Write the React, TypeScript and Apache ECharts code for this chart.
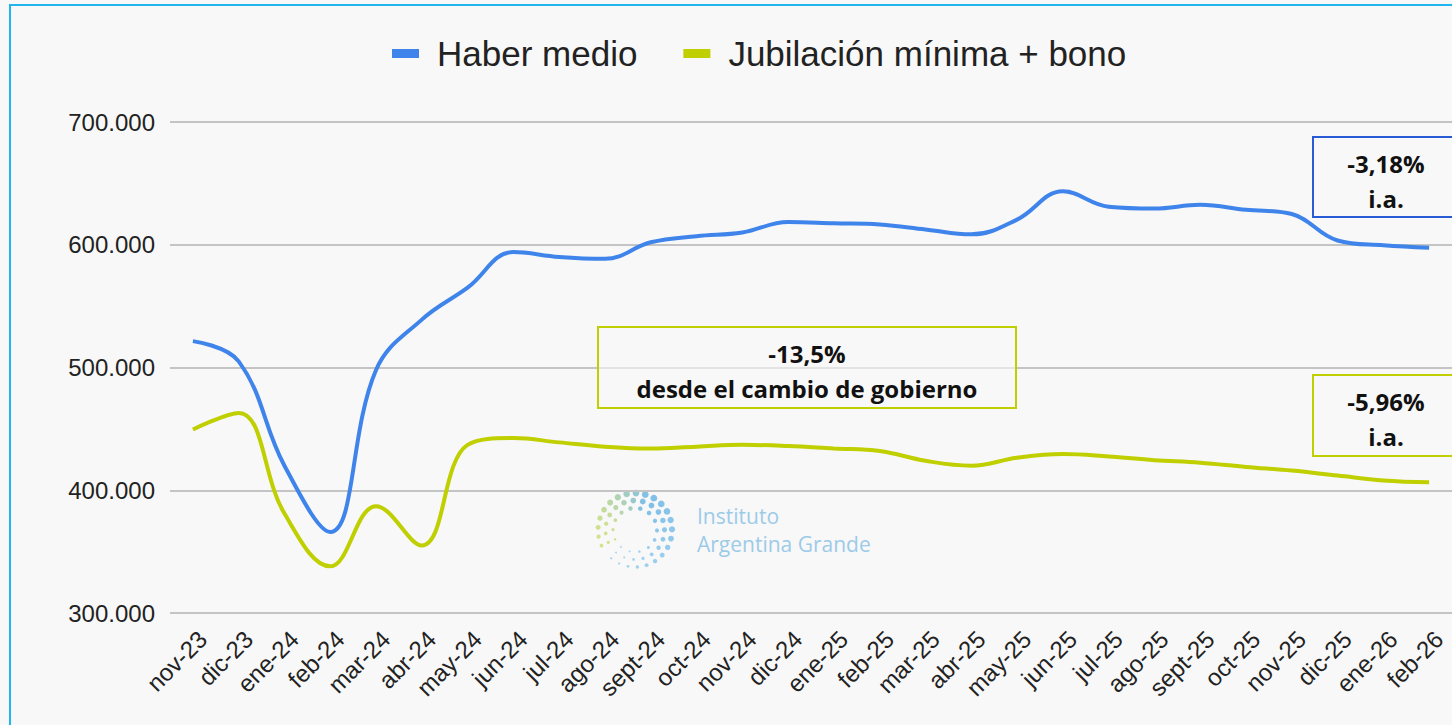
import React, { useEffect, useRef } from "react";
import * as echarts from "echarts";

const categories = [
  "nov-23", "dic-23", "ene-24", "feb-24", "mar-24", "abr-24", "may-24", "jun-24",
  "jul-24", "ago-24", "sept-24", "oct-24", "nov-24", "dic-24", "ene-25", "feb-25",
  "mar-25", "abr-25", "may-25", "jun-25", "jul-25", "ago-25", "sept-25", "oct-25",
  "nov-25", "dic-25", "ene-26", "feb-26",
];

const haberMedio = [
  521500, 505000, 420000, 366000, 498000, 539000, 565000, 594000,
  590000, 588500, 602000, 607000, 610000, 618500, 617500, 616500,
  612500, 608500, 620500, 643500, 631000, 629500, 632500, 628500,
  625000, 603500, 599500, 597500,
];

const jubilacionMinima = [
  449500, 463000, 381000, 338000, 387000, 355000, 437000, 442500,
  439000, 435500, 434000, 435500, 437000, 436000, 434000, 432000,
  424000, 420000, 426500, 429500, 427500, 424500, 422500, 419000,
  416000, 412000, 408000, 406500,
];

const seriesNames = ["Haber medio", "Jubilación mínima + bono"];
const yTicks = [300000, 400000, 500000, 600000, 700000];

const BLUE = "#3f84ea";
const OLIVE = "#bfcf00";
const SANS = "'Liberation Sans', Arial, sans-serif";
const BOLD = "'Open Sans', Lato, sans-serif";

function fmt(v: number): string {
  return String(v).replace(/\B(?=(\d{3})+(?!\d))/g, ".");
}

function logoDots(): any[] {
  const cx = 635;
  const cy = 530;
  const out: any[] = [];
  const rings = [
    { r: 37, n: 24, s: 3.4 },
    { r: 29.5, n: 19, s: 2.9 },
    { r: 22, n: 14, s: 2.3 },
  ];
  const lerp = (a: number, b: number, t: number) => Math.round(a + (b - a) * t);
  const green = [205, 222, 120];
  const blue = [105, 180, 230];
  const light = [160, 210, 238];
  rings.forEach((ring) => {
    for (let k = 0; k < ring.n; k++) {
      const t = k / (ring.n - 1);
      const deg = 205 - t * 335;
      const th = (deg * Math.PI) / 180;
      const x = cx + ring.r * Math.cos(th);
      const y = cy - ring.r * Math.sin(th);
      let c: number[];
      if (t < 0.4) {
        const u = t / 0.4;
        c = [lerp(green[0], blue[0], u * u), lerp(green[1], blue[1], u * u), lerp(green[2], blue[2], u * u)];
      } else {
        const u = (t - 0.4) / 0.6;
        c = [lerp(blue[0], light[0], u), lerp(blue[1], light[1], u), lerp(blue[2], light[2], u)];
      }
      const size = ring.s * (0.35 + 0.65 * Math.sin(Math.PI * Math.min(1, 0.1 + t * 0.95)));
      out.push({
        type: "circle",
        shape: { cx: x, cy: y, r: Math.max(0.9, size) },
        style: { fill: `rgba(${c[0]},${c[1]},${c[2]},0.85)` },
        silent: true,
      });
    }
  });
  return out;
}

function box(x: number, y: number, w: number, h: number, color: string, lines: string[]): any[] {
  const els: any[] = [
    {
      type: "rect",
      shape: { x, y, width: w, height: h },
      style: { fill: "rgba(248,248,248,0.6)", stroke: color, lineWidth: 2 },
      z: 10,
    },
  ];
  return els.concat(
    lines.map((t, i) => ({
      type: "text",
      x: x + (w > 200 ? w / 2 : 73),
      y: y + 26 + i * 35,
      z: 11,
      style: {
        text: t,
        fill: "#111",
        font: `bold 24px ${BOLD}`,
        lineHeight: 30,
        textAlign: "center",
        textVerticalAlign: "middle",
      },
    }))
  );
}

export default function App() {
  const ref = useRef<HTMLDivElement>(null);

  useEffect(() => {
    if (!ref.current) return;
    const chart = echarts.init(ref.current, null, { renderer: "svg" });
    const option: any = {
      animation: false,
      backgroundColor: "#f8f8f8",
      legend: {
        top: 36,
        left: 392,
        icon: "rect",
        itemWidth: 27,
        itemHeight: 9,
        itemGap: 46,
        padding: 0,
        data: seriesNames,
        textStyle: {
          fontFamily: SANS,
          fontSize: 35,
          color: "#222",
          padding: [0, 0, 0, 13],
        },
      },
      grid: { left: 170, right: -4, top: 122, bottom: 112, containLabel: false },
      xAxis: {
        type: "category",
        data: categories,
        boundaryGap: true,
        axisLine: { show: false },
        axisTick: { show: false },
        splitLine: { show: false },
        axisLabel: {
          interval: 0,
          rotate: 45,
          margin: 32,
          padding: [0, -14, 0, 0],
          fontFamily: SANS,
          fontSize: 24,
          color: "#222",
        },
      },
      yAxis: {
        type: "value",
        min: 300000,
        max: 700000,
        interval: 100000,
        axisLine: { show: false },
        axisTick: { show: false },
        splitLine: { lineStyle: { color: "#c4c4c4", width: 2 } },
        axisLabel: {
          margin: 15,
          fontFamily: SANS,
          fontSize: 24,
          color: "#222",
          formatter: (v: number) => (yTicks.includes(v) ? fmt(v) : ""),
        },
      },
      series: [
        {
          name: seriesNames[0],
          type: "line",
          data: haberMedio,
          smooth: 0.4,
          symbol: "none",
          lineStyle: { width: 4, color: BLUE },
          itemStyle: { color: BLUE },
          z: 3,
        },
        {
          name: seriesNames[1],
          type: "line",
          data: jubilacionMinima,
          smooth: 0.4,
          symbol: "none",
          lineStyle: { width: 4, color: OLIVE },
          itemStyle: { color: OLIVE },
          z: 3,
        },
      ],
      graphic: [
        {
          type: "rect",
          shape: { x: 10, y: 5, width: 1480, height: 760 },
          style: { fill: "none", stroke: "#22b6ee", lineWidth: 2 },
          silent: true,
          z: 20,
        },
        ...logoDots(),
        {
          type: "text",
          x: 697,
          y: 516,
          style: {
            text: "Instituto",
            fill: "#9ccbe8",
            font: "21px 'Open Sans', sans-serif",
            lineHeight: 22,
            textVerticalAlign: "middle",
          },
        },
        {
          type: "text",
          x: 697,
          y: 544,
          style: {
            text: "Argentina Grande",
            fill: "#9ccbe8",
            font: "21px 'Open Sans', sans-serif",
            lineHeight: 22,
            textVerticalAlign: "middle",
          },
        },
        ...box(1313, 137, 160, 80, "#2a5bd7", ["-3,18%", "i.a."]),
        ...box(598, 327, 418, 81, OLIVE, ["-13,5%", "desde el cambio de gobierno"]),
        ...box(1313, 375, 160, 81, OLIVE, ["-5,96%", "i.a."]),
      ],
    };
    chart.setOption(option);
    return () => chart.dispose();
  }, []);

  return (
    <div
      ref={ref}
      style={{ position: "absolute", left: 0, top: 0, width: 1452, height: 725, background: "#f8f8f8" }}
    />
  );
}
